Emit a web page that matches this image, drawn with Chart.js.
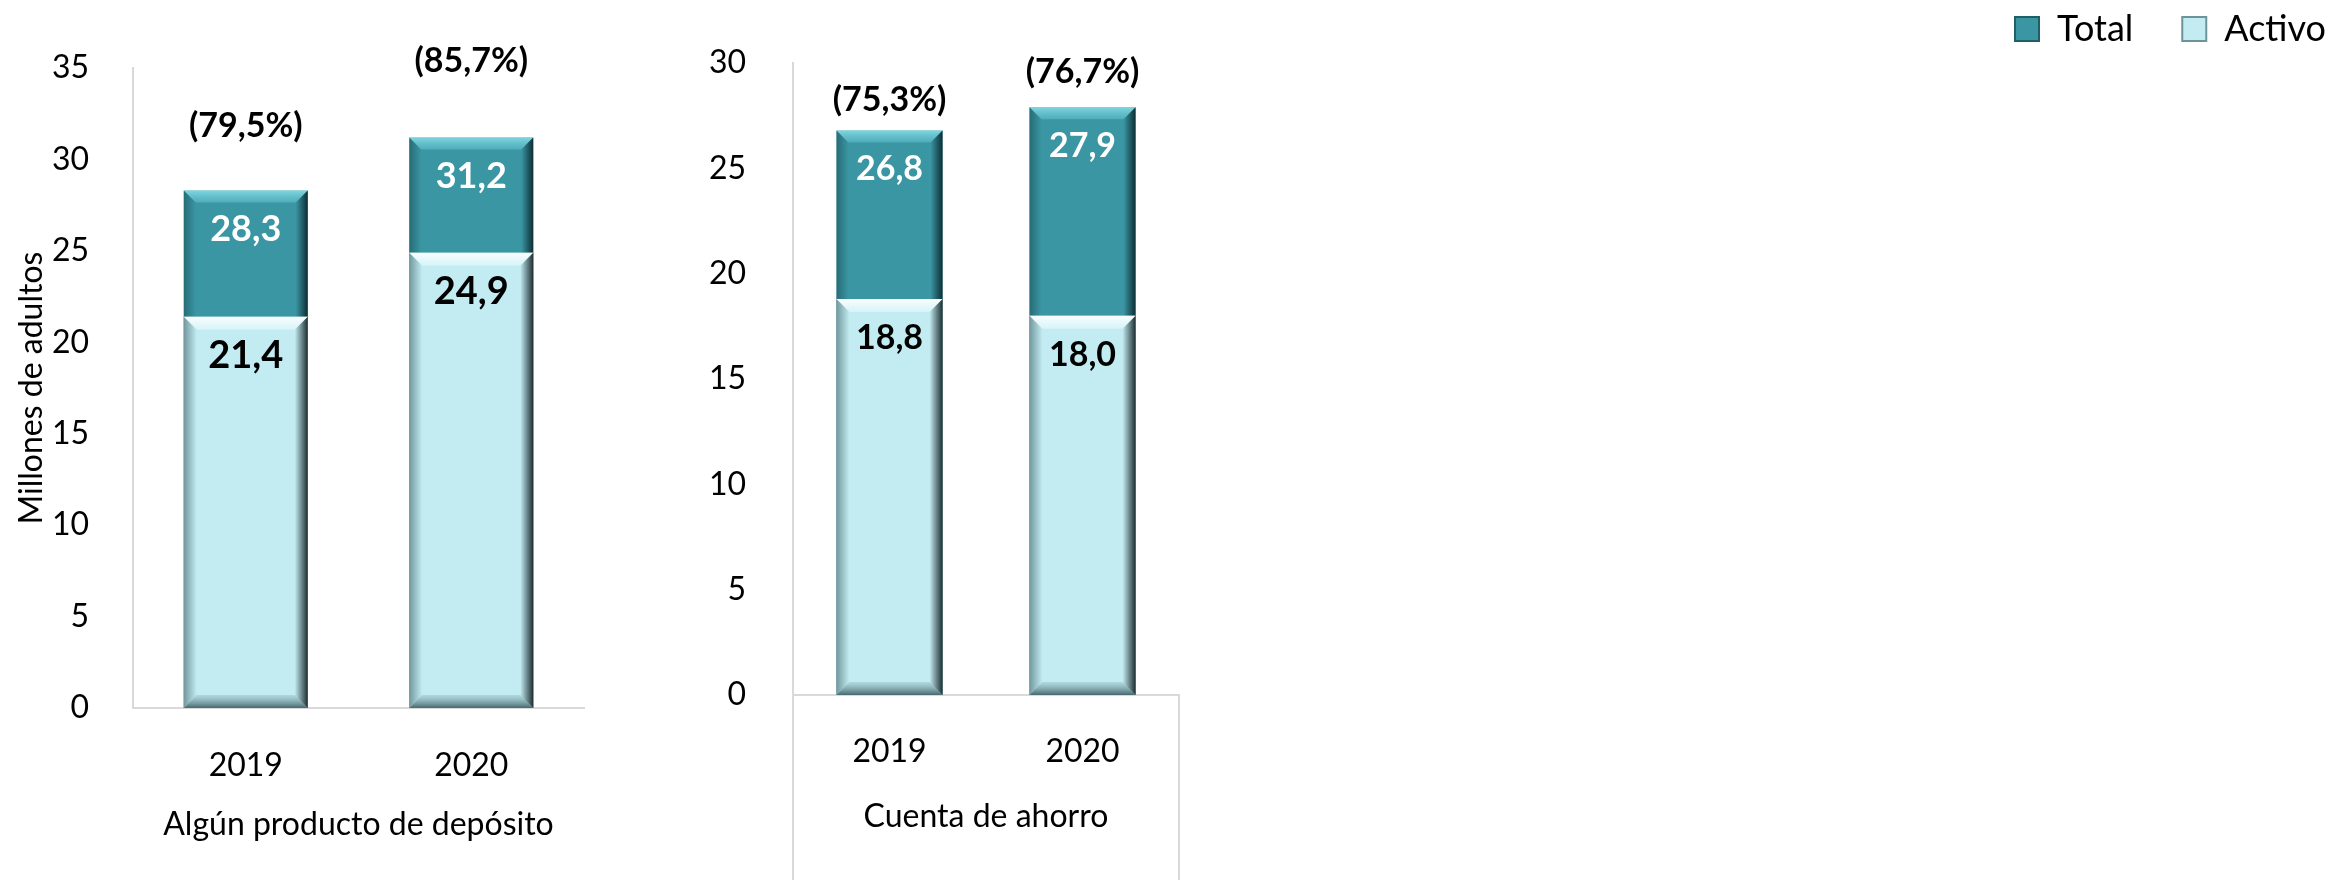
<!DOCTYPE html>
<html><head><meta charset="utf-8">
<script src="https://cdn.jsdelivr.net/npm/chart.js@4.4.1/dist/chart.umd.min.js"></script>
<style>
html,body{margin:0;padding:0;background:#fff;width:2334px;height:880px;overflow:hidden;position:relative}
canvas{position:absolute}
#c1{left:0;top:0}
#c2{left:620px;top:0}
#c3{left:1220px;top:-38px}
</style></head><body>
<canvas id="c1" width="620" height="880"></canvas>
<canvas id="c2" width="600" height="880"></canvas>
<canvas id="c3" width="1155" height="320"></canvas>
<script>
// ---- data ----
const years = ['2019', '2020'];
const seriesNames = ['Total', 'Activo'];
const groupTitles = ['Algún producto de depósito', 'Cuenta de ahorro'];
const depositoTotal = [28.3, 31.2];
const depositoActivo = [21.4, 24.9];
const depositoPct = [79.5, 85.7];
const ahorroTotal = [26.8, 27.9];
const ahorroActivo = [18.8, 18.0];
const ahorroPct = [75.3, 76.7];
const yTitle = 'Millones de adultos';

const FONT = 'Lato, "Open Sans", "DejaVu Sans", sans-serif';
const TEAL = '#3A96A3';
const LIGHT = '#C2ECF2';
const fmt = v => v.toFixed(1).replace('.', ',');

const bevelTotal = { size: 12,
  top: ['rgba(150,235,245,0.75)', 'rgba(120,215,228,0.35)'],
  bottom: ['rgba(0,30,35,0.55)', 'rgba(0,30,35,0.1)'],
  left: ['rgba(0,30,35,0.35)', 'rgba(0,30,35,0)'],
  right: ['rgba(0,20,25,0.8)', 'rgba(0,20,25,0)'] };
const bevelActivo = { size: 13,
  top: ['rgba(255,255,255,0.95)', 'rgba(235,252,255,0.5)'],
  bottom: ['rgba(40,70,75,0.8)', 'rgba(120,160,165,0.25)'],
  left: ['rgba(60,95,100,0.6)', 'rgba(60,95,100,0)'],
  right: ['rgba(20,35,38,0.95)', 'rgba(20,35,38,0)'] };

const bevelPlugin = {
  id: 'bevel',
  afterDatasetDraw(chart, args) {
    const ds = chart.data.datasets[args.index];
    const bv = ds.bevel;
    if (!bv) return;
    const ctx = chart.ctx;
    ctx.save();
    args.meta.data.forEach(el => {
      const p = el.getProps(['x', 'y', 'base', 'width'], true);
      const l = p.x - p.width / 2, r = p.x + p.width / 2;
      const t = Math.min(p.y, p.base), b = Math.max(p.y, p.base);
      const s = bv.size;
      const poly = (pts, g) => {
        ctx.fillStyle = g; ctx.beginPath();
        ctx.moveTo(pts[0][0], pts[0][1]);
        for (let i = 1; i < pts.length; i++) ctx.lineTo(pts[i][0], pts[i][1]);
        ctx.closePath(); ctx.fill();
      };
      let g = ctx.createLinearGradient(0, t, 0, t + s);
      g.addColorStop(0, bv.top[0]); g.addColorStop(1, bv.top[1]);
      poly([[l, t], [r, t], [r - s, t + s], [l + s, t + s]], g);
      g = ctx.createLinearGradient(0, b, 0, b - s);
      g.addColorStop(0, bv.bottom[0]); g.addColorStop(1, bv.bottom[1]);
      poly([[l, b], [r, b], [r - s, b - s], [l + s, b - s]], g);
      g = ctx.createLinearGradient(l, 0, l + s, 0);
      g.addColorStop(0, bv.left[0]); g.addColorStop(1, bv.left[1]);
      poly([[l, t], [l + s, t + s], [l + s, b - s], [l, b]], g);
      g = ctx.createLinearGradient(r, 0, r - s, 0);
      g.addColorStop(0, bv.right[0]); g.addColorStop(1, bv.right[1]);
      poly([[r, t], [r - s, t + s], [r - s, b - s], [r, b]], g);
    });
    ctx.restore();
  }
};

const labelPlugin = {
  id: 'barLabels',
  afterDatasetsDraw(chart, args, opts) {
    const ctx = chart.ctx;
    ctx.save();
    ctx.textAlign = 'center';
    ctx.textBaseline = 'middle';
    chart.data.datasets.forEach((ds, i) => {
      const meta = chart.getDatasetMeta(i);
      if (!ds.valueLabel) return;
      ctx.font = 'bold ' + ds.valueLabel.size + 'px ' + FONT;
      ctx.fillStyle = ds.valueLabel.color;
      meta.data.forEach((el, j) => {
        ctx.fillText(fmt(ds.data[j]), el.x, el.y + ds.valueLabel.offset);
      });
    });
    if (opts.pct) {
      const meta = chart.getDatasetMeta(0);
      ctx.font = 'bold ' + opts.size + 'px ' + FONT;
      ctx.fillStyle = '#000';
      meta.data.forEach((el, j) => {
        ctx.fillText('(' + fmt(opts.pct[j]) + '%)', el.x, el.y - opts.offsets[j]);
      });
    }
    ctx.restore();
  }
};

const framePlugin = {
  id: 'frame',
  afterDraw(chart, args, opts) {
    if (!opts.extend) return;
    const ctx = chart.ctx, x = chart.scales.x;
    ctx.save();
    ctx.strokeStyle = '#D9D9D9'; ctx.lineWidth = 2;
    ctx.beginPath();
    ctx.moveTo(x.left, chart.chartArea.bottom); ctx.lineTo(x.left, chart.height);
    ctx.moveTo(x.right, chart.chartArea.bottom); ctx.lineTo(x.right, chart.height);
    ctx.stroke();
    ctx.restore();
  }
};

function makeChart(id, cfg) {
  return new Chart(document.getElementById(id), {
    type: 'bar',
    data: {
      labels: years,
      datasets: [
        { label: seriesNames[0], data: cfg.total, backgroundColor: TEAL, order: 1,
          bevel: bevelTotal, valueLabel: { size: cfg.totalLabelSize, color: '#fff', offset: 39 } },
        { label: seriesNames[1], data: cfg.activo, backgroundColor: LIGHT, order: 0,
          bevel: bevelActivo, valueLabel: { size: cfg.activoLabelSize, color: '#000', offset: 39 } }
      ]
    },
    options: {
      responsive: false,
      animation: false,
      events: [],
      categoryPercentage: 1,
      barPercentage: 0.55,
      layout: { padding: cfg.padding },
      plugins: {
        legend: { display: false },
        tooltip: { enabled: false },
        barLabels: { pct: cfg.pct, offsets: cfg.pctOffsets, size: 34 },
        frame: { extend: cfg.extend }
      },
      scales: {
        x: {
          stacked: true,
          grid: { display: false },
          border: { display: true, color: '#D9D9D9', width: 2 },
          ticks: { color: '#000', font: { family: FONT, size: 32 }, padding: cfg.xTickPad },
          title: { display: true, text: cfg.groupTitle, color: '#000',
                   font: { family: FONT, size: 32 }, padding: { top: 0, bottom: cfg.xTitlePad } },
          afterFit: s => { s.height = cfg.xHeight; }
        },
        y: {
          min: 0, max: cfg.max,
          grid: { display: false },
          border: { display: true, color: '#D9D9D9', width: 2 },
          ticks: { stepSize: 5, color: '#000', font: { family: FONT, size: 32 }, padding: cfg.yTickPad },
          title: { display: cfg.yTitle !== '', text: cfg.yTitle, color: '#000',
                   font: { family: FONT, size: 32 }, padding: { top: 12, bottom: 0 } },
          afterFit: s => { s.width = cfg.yWidth; }
        }
      }
    },
    plugins: [bevelPlugin, labelPlugin, framePlugin]
  });
}

makeChart('c1', {
  total: depositoTotal, activo: depositoActivo, pct: depositoPct, pctOffsets: [64, 76],
  groupTitle: groupTitles[0], yTitle: yTitle, max: 35,
  totalLabelSize: 36, activoLabelSize: 38,
  padding: { top: 68, right: 36, bottom: 0, left: 0 },
  xHeight: 172, yWidth: 133, xTickPad: 30, xTitlePad: 36, yTickPad: 36, extend: false
});
makeChart('c2', {
  total: ahorroTotal, activo: ahorroActivo, pct: ahorroPct, pctOffsets: [30, 35],
  groupTitle: groupTitles[1], yTitle: '', max: 30,
  totalLabelSize: 34, activoLabelSize: 34,
  padding: { top: 63, right: 41, bottom: 0, left: 0 },
  xHeight: 185, yWidth: 173, xTickPad: 29, xTitlePad: 44, yTickPad: 39, extend: true
});

new Chart(document.getElementById('c3'), {
  type: 'bar',
  data: {
    labels: [],
    datasets: [
      { label: seriesNames[0], data: [], backgroundColor: TEAL, borderColor: '#1F5F68', borderWidth: 2 },
      { label: seriesNames[1], data: [], backgroundColor: LIGHT, borderColor: '#6E9499', borderWidth: 2 }
    ]
  },
  options: {
    responsive: false, animation: false, events: [],
    layout: { padding: 0 },
    scales: { x: { display: false }, y: { display: false } },
    plugins: {
      tooltip: { enabled: false },
      legend: { position: 'top', align: 'end', maxHeight: 200,
        labels: { color: '#000', font: { family: FONT, size: 36 }, boxWidth: 24, boxHeight: 24, padding: 49 } }
    }
  }
});
</script>
</body></html>
